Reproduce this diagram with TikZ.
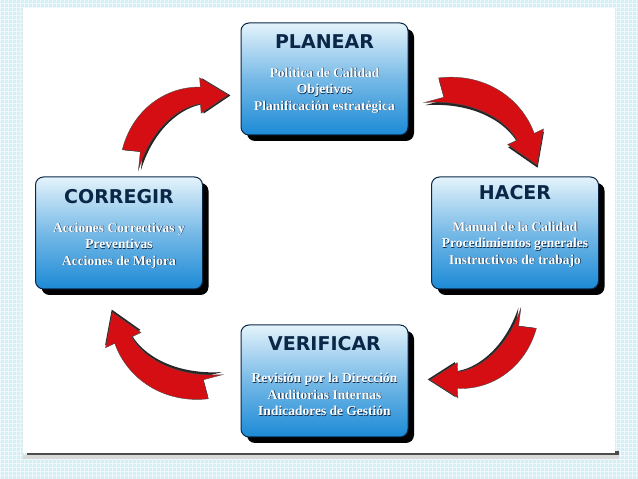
\documentclass[tikz,border=0pt]{standalone}
\usepackage{fontspec}
\setmainfont{Liberation Serif}
\newfontfamily\titlefont{DejaVu Sans}
\definecolor{bgc}{HTML}{D4EEF5}
\definecolor{navy}{HTML}{0B2747}
\definecolor{boxtop}{HTML}{E4F3FB}
\definecolor{boxbot}{HTML}{1C8AD6}
\definecolor{arrred}{HTML}{D40E12}
\tikzset{
  stage/.style={draw=navy, line width=1pt, rounded corners=8pt, minimum width=167pt, minimum height=112pt,
    top color=boxtop, bottom color=boxbot, middle color=boxbot!55!boxtop, inner sep=0pt},
  stageshadow/.style={fill=black, rounded corners=8pt, minimum width=167pt, minimum height=112pt, inner sep=0pt},
  ttl/.style={font=\titlefont\bfseries\fontsize{19}{19}\selectfont, text=navy},
  body/.style={font=\bfseries\fontsize{13.5}{16.5}\selectfont, text=white, align=center},
  bodysh/.style={font=\bfseries\fontsize{13.5}{16.5}\selectfont, text=navy, align=center},
}
\newcommand{\redarrow}[4]{%
  \begin{scope}[shift={(#1,#2)}, rotate=#3, scale=#4]
    \fill[black!85, shift={(1.5,-1.5)}] (-2,12) .. controls (25,36) and (60,36) .. (84,19) -- (88,26) -- (100,0) -- (72,0) -- (76,7) .. controls (60,15) and (30,14) .. (0,-10) -- (10,2) -- cycle;
    \fill[arrred, draw=black!70, line width=0.4pt] (-2,12) .. controls (25,36) and (60,36) .. (84,19) -- (88,26) -- (100,0) -- (72,0) -- (76,7) .. controls (60,15) and (30,14) .. (0,-10) -- (10,2) -- cycle;
  \end{scope}}
\newcommand{\stagebox}[7]{%
  \node[stageshadow] at (#2+6,#3-6) {};
  \node[stage] (#1) at (#2,#3) {};
  \node[ttl] (#1t) at ([yshift=-#7]#1.north) {#4};
  \node[bodysh] at ([xshift=0.6pt,yshift=-#6-0.6pt]#1.north) {#5};
  \node[body] (#1b) at ([yshift=-#6]#1.north) {#5};
}
\begin{document}
\begin{tikzpicture}[x=1pt,y=1pt]
\useasboundingbox (0,0) rectangle (638,479);
\fill[bgc] (0,0) rectangle (638,479);
\draw[white!60!bgc, line width=0.4pt, step=4pt] (0,0) grid (638,479);
\fill[black!70] (27,21) rectangle (619,28);
\fill[black!15] (23,20) rectangle (619,24);
\fill[white] (23,26) rectangle (615,471);
\stagebox{plan}{324.5}{400}{PLANEAR}{Política de Calidad\\Objetivos\\Planificación estratégica}{68pt}{19pt}
\stagebox{hacer}{515}{246}{HACER}{Manual de la Calidad\\Procedimientos generales\\Instructivos de trabajo}{68pt}{16pt}
\stagebox{corr}{119}{246}{CORREGIR}{Acciones Correctivas y\\Preventivas\\Acciones de Mejora}{69pt}{20pt}
\stagebox{veri}{324.5}{98}{VERIFICAR}{Revisión por la Dirección\\Auditorias Internas\\Indicadores de Gestión}{70pt}{19pt}
\redarrow{432}{387}{-34.8}{1.28}
\redarrow{527}{161}{212.6}{1.15}
\redarrow{215}{94}{144.7}{1.26}
\redarrow{132}{319}{34.1}{1.16}
\end{tikzpicture}
\end{document}
